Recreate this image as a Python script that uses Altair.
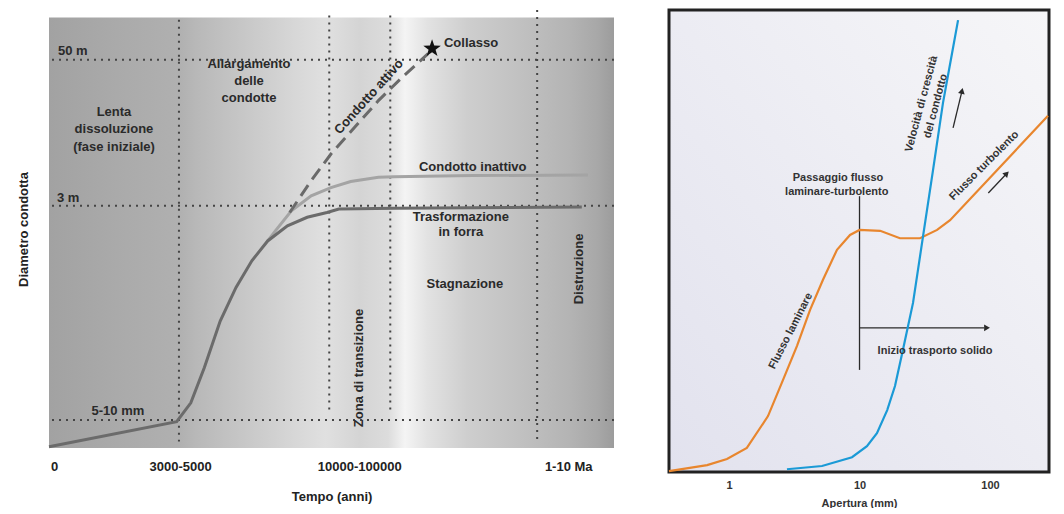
import altair as alt
import pandas as pd

FONT = "Liberation Sans"

main_x = [0, 22.6, 25.1, 27.5, 30.3, 33.1, 35.9, 38.7, 42.2, 45.7, 49.2, 51.3, 61.1, 94.3]
main_y = [0.3, 6.1, 10.5, 18.7, 29.5, 37.3, 43.5, 48.1, 51.6, 53.6, 54.7, 55.5, 55.7, 56.0]

inact_x = [38.7, 40.1, 42.9, 46.4, 49.9, 53.4, 58.3, 61.1, 75.0, 95.4]
inact_y = [48.1, 50.5, 55.1, 58.6, 60.5, 61.9, 62.9, 63.0, 63.3, 63.4]

act_x = [42.6, 46.4, 49.9, 54.1, 58.3, 62.5, 67.1]
act_y = [54.7, 62.1, 68.3, 74.5, 80.7, 86.1, 91.6]

star_x = [67.8]
star_y = [92.8]

vline_x = [23.0, 49.6, 60.4, 86.4]
vline_top = [99.5, 100.5, 100.5, 101.75]
vline_bottom = [1.5, 8.0, 8.0, 1.5]
hline_y = [90.2, 56.3, 6.5]

x_tick_pos = [0.9, 23.2, 54.9, 91.9]
x_tick_labels = ["0", "3000-5000", "10000-100000", "1-10 Ma"]

ctext_labels = ["Lenta", "dissoluzione", "(fase iniziale)",
                "Allargamento", "delle", "condotte",
                "Condotto attivo", "Condotto inattivo",
                "Trasformazione", "in forra", "Stagnazione",
                "Zona di transizione", "Distruzione", "5-10 mm"]
ctext_x = [11.5, 11.5, 11.5, 35.4, 35.4, 35.4, 56.6, 75.0, 72.9, 72.9, 73.6, 54.9, 93.8, 12.2]
ctext_y = [78.0, 74.1, 70.0, 89.2, 85.2, 81.3, 81.6, 65.2, 53.6, 50.1, 38.1, 18.6, 41.6, 8.6]
ctext_angle = [0, 0, 0, 0, 0, 0, 312, 0, 0, 0, 0, 270, 270, 0]

ltext_labels = ["50 m", "3 m", "Collasso"]
ltext_x = [1.6, 1.4, 69.9]
ltext_y = [92.3, 58.1, 94.0]

bg_stops = [0.0, 0.12, 0.23, 0.26, 0.35, 0.44, 0.49, 0.55, 0.6, 0.63, 0.67, 0.74, 0.84, 0.92, 0.97, 1.0]
bg_colors = ["#a2a2a2", "#aaaaaa", "#b0b0b0", "#b8b8b8", "#c8c8c8", "#d8d8d8", "#e0e0e0",
             "#d4d4d4", "#dcdcdc", "#f4f4f4", "#e2e2e2", "#cecece", "#c0c0c0", "#b4b4b4",
             "#a8a8a8", "#9c9c9c"]

lam_x = [0.347, 0.50, 0.68, 0.965, 1.37, 1.99, 2.59, 3.32, 4.18, 5.25, 6.72, 8.46, 10,
         14.4, 20.4, 29.1, 39.3, 49.4, 278]
lam_y = [0.2, 0.9, 1.5, 2.8, 5.2, 12.1, 19.9, 27.3, 35.1, 41.6, 48.1, 51.3, 52.4,
         52.2, 50.6, 50.6, 52.4, 54.5, 77.1]

vel_x = [2.78, 5.16, 8.76, 11.4, 13.6, 16.3, 18.7, 21.5, 25.7, 30.7, 36.6, 43.6, 51.2, 56.9]
vel_y = [0.6, 1.3, 3.2, 5.6, 8.4, 13.4, 18.6, 26.4, 36.6, 51.1, 65.4, 79.9, 90.7, 97.8]

seg_x = [10, 10, 52.1, 97.0]
seg_y = [22.1, 31.2, 74.5, 60.4]
seg_x2 = [10, 90.0, 61.0, 134.3]
seg_y2 = [59.7, 31.2, 82.5, 64.6]

head_x = [94.8, 61.0, 134.3]
head_y = [31.2, 82.5, 64.6]
head_angle = [90, 13, 44]

r_labels = ["Passaggio flusso", "laminare-turbolento", "Inizio trasporto solido",
            "Flusso laminare", "Velocità di crescità", "del condotto", "Flusso turbolento"]
r_x = [6.84, 6.69, 37.9, 2.98, 29.9, 38.4, 90.2]
r_y = [63.6, 60.5, 26.1, 30.5, 79.7, 79.2, 66.3]
r_angle = [0, 0, 0, 297, 285, 285, 315]

r_ticks = [1, 10, 100]

STAR = ("M0,-1L0.235,-0.324L0.951,-0.309L0.380,0.124L0.588,0.809L0,0.4"
        "L-0.588,0.809L-0.380,0.124L-0.951,-0.309L-0.235,-0.324Z")

label_expr = " : ".join(
    f"abs(datum.value - {p}) < 1 ? '{t}'" for p, t in zip(x_tick_pos, x_tick_labels)
) + " : ''"

lx_scale = alt.Scale(domain=[0, 100], nice=False, zero=False)
ly_scale = alt.Scale(domain=[0, 101.75], nice=False, zero=False)
lx_axis = alt.Axis(values=x_tick_pos, labelExpr=label_expr, ticks=False, tickSize=0,
                   domain=False, grid=False, labelPadding=12, labelFontSize=13,
                   labelFontWeight="bold", labelColor="#222", labelFlush=False,
                   titlePadding=17, titleFontSize=13, titleFontWeight="bold",
                   titleColor="#222", labelFont=FONT, titleFont=FONT)
ly_axis = alt.Axis(labels=False, ticks=False, tickSize=0, domain=False, grid=False,
                   titlePadding=19, titleFontSize=13, titleFontWeight="bold",
                   titleColor="#222", titleFont=FONT)

LX = alt.X("x:Q", scale=lx_scale, axis=lx_axis, title="Tempo (anni)")
LY = alt.Y("y:Q", scale=ly_scale, axis=ly_axis, title="Diametro condotta")

bg_left = alt.Chart(pd.DataFrame({"k": [0]})).mark_rect(
    fill=alt.LinearGradient(
        gradient="linear", x1=0, x2=1, y1=0, y2=0,
        stops=[alt.GradientStop(offset=o, color=c) for o, c in zip(bg_stops, bg_colors)],
    )
).encode(x=alt.value(0), x2=alt.value("width"), y=alt.datum(100, scale=ly_scale), y2=alt.datum(0))

vlines = alt.Chart(pd.DataFrame({"x": vline_x, "y": vline_top, "y2": vline_bottom})).mark_rule(
    color="#444", strokeWidth=2, strokeDash=[2, 5]).encode(x=LX, y=LY, y2="y2:Q")
hlines = alt.Chart(pd.DataFrame({"y": hline_y})).mark_rule(
    color="#444", strokeWidth=2, strokeDash=[2, 5]).encode(y=LY)

inact = alt.Chart(pd.DataFrame({"x": inact_x, "y": inact_y})).mark_line(
    color="#a4a4a4", strokeWidth=3).encode(x=LX, y=LY)
active = alt.Chart(pd.DataFrame({"x": act_x, "y": act_y})).mark_line(
    color="#6a6a6a", strokeWidth=3, strokeDash=[13, 7]).encode(x=LX, y=LY)
main = alt.Chart(pd.DataFrame({"x": main_x, "y": main_y})).mark_line(
    color="#6b6b6b", strokeWidth=3).encode(x=LX, y=LY)
star = alt.Chart(pd.DataFrame({"x": star_x, "y": star_y})).mark_point(
    shape=STAR, filled=True, color="#111", size=340, opacity=1).encode(x=LX, y=LY)

ctext = alt.Chart(pd.DataFrame({"x": ctext_x, "y": ctext_y, "t": ctext_labels,
                                "a": ctext_angle})).mark_text(
    font=FONT, fontSize=13, fontWeight="bold", color="#2a2a2a", align="center",
    baseline="middle").encode(x=LX, y=LY, text="t:N", angle=alt.Angle("a:Q", scale=None))
ltext = alt.Chart(pd.DataFrame({"x": ltext_x, "y": ltext_y, "t": ltext_labels})).mark_text(
    font=FONT, fontSize=13, fontWeight="bold", color="#2a2a2a", align="left",
    baseline="middle").encode(x=LX, y=LY, text="t:N")

left = alt.layer(bg_left, vlines, hlines, inact, active, main, star, ctext, ltext).properties(
    width=565, height=438,
)

rx_scale = alt.Scale(type="log", domain=[0.347, 283], nice=False)
ry_scale = alt.Scale(domain=[0, 100], nice=False, zero=False)
rx_axis = alt.Axis(values=r_ticks, format="d", ticks=False, tickSize=0, domain=False,
                   grid=False, labelPadding=7, labelFontSize=11, labelFontWeight="bold",
                   labelColor="#333", labelFlush=False, titlePadding=7, titleFontSize=11,
                   titleFontWeight="bold", titleColor="#333", labelFont=FONT, titleFont=FONT)
RX = alt.X("x:Q", scale=rx_scale, axis=rx_axis, title="Apertura (mm)")
RY = alt.Y("y:Q", scale=ry_scale, axis=None)

bg_right = alt.Chart(pd.DataFrame({"k": [0]})).mark_rect(
    fill=alt.LinearGradient(
        gradient="linear", x1=0, x2=1, y1=1, y2=0,
        stops=[alt.GradientStop(offset=0, color="#e2e2ee"),
               alt.GradientStop(offset=0.5, color="#ececf3"),
               alt.GradientStop(offset=1, color="#f6f6f8")],
    ),
    stroke="#222", strokeWidth=3,
).encode(x=alt.value(0), x2=alt.value("width"), y=alt.value(0), y2=alt.value("height"))

segs = alt.Chart(pd.DataFrame({"x": seg_x, "y": seg_y, "x2": seg_x2, "y2": seg_y2})).mark_rule(
    color="#2a2a2a", strokeWidth=1.3).encode(x=RX, y=RY, x2="x2:Q", y2="y2:Q")
heads = alt.Chart(pd.DataFrame({"x": head_x, "y": head_y, "a": head_angle})).mark_point(
    shape="triangle-up", filled=True, color="#2a2a2a", size=45, opacity=1).encode(
    x=RX, y=RY, angle=alt.Angle("a:Q", scale=None))
lam = alt.Chart(pd.DataFrame({"x": lam_x, "y": lam_y})).mark_line(
    color="#e8862e", strokeWidth=2.2).encode(x=RX, y=RY)
vel = alt.Chart(pd.DataFrame({"x": vel_x, "y": vel_y})).mark_line(
    color="#1b9ad6", strokeWidth=2.2).encode(x=RX, y=RY)
rtext = alt.Chart(pd.DataFrame({"x": r_x, "y": r_y, "t": r_labels, "a": r_angle})).mark_text(
    font=FONT, fontSize=11, fontWeight="bold", color="#333", align="center",
    baseline="middle").encode(x=RX, y=RY, text="t:N", angle=alt.Angle("a:Q", scale=None))

right = alt.layer(bg_right, segs, heads, lam, vel, rtext).properties(
    width=380, height=462,
)

chart = alt.hconcat(left, right, spacing=49).properties(
    padding={"left": 9, "top": 0, "right": 0, "bottom": 0}
).configure(font=FONT).configure_view(stroke=None)

chart.save("out.html", embed_options={"renderer": "svg", "actions": False})
